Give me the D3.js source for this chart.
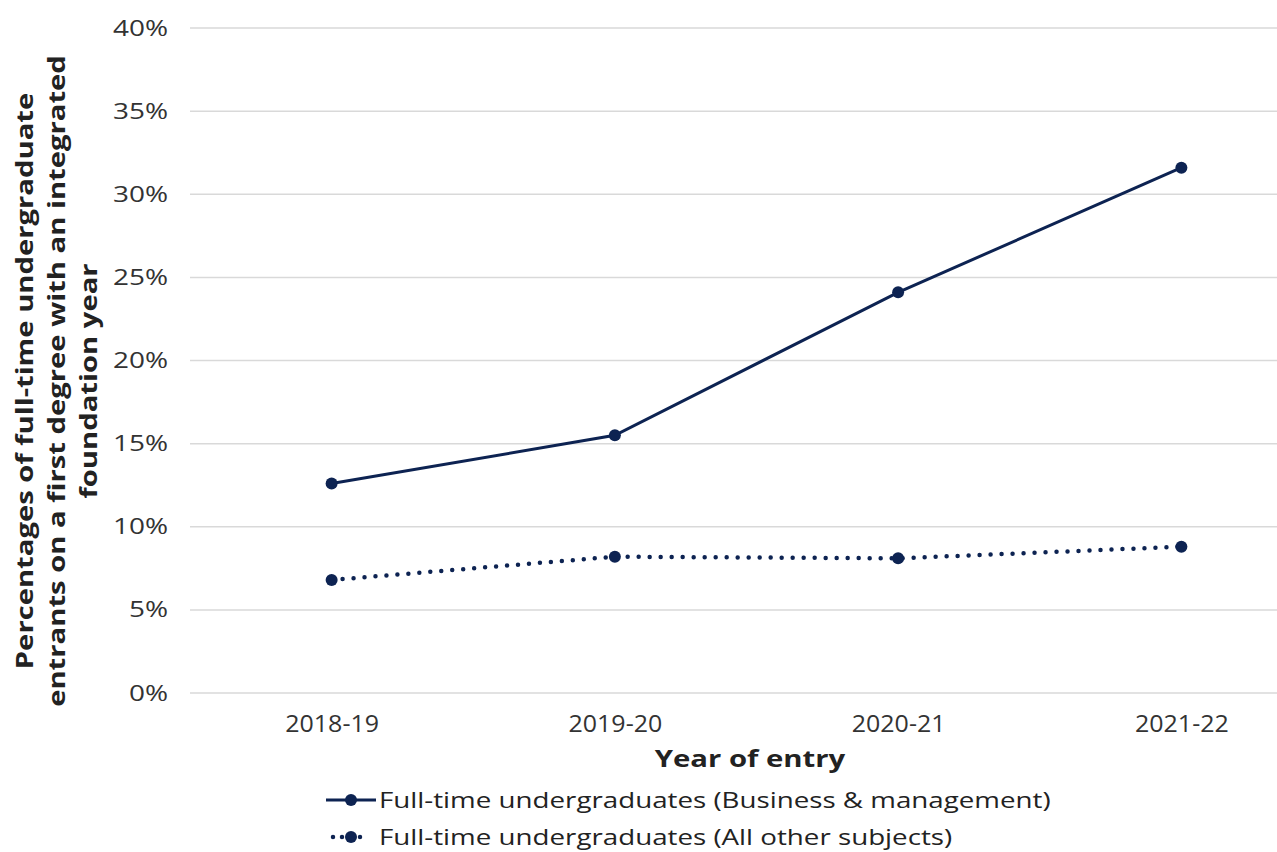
<!DOCTYPE html>
<html><head><meta charset="utf-8">
<script src="https://cdn.jsdelivr.net/npm/d3@7"></script>
<style>body{margin:0;background:#fff}svg{display:block;font-family:"Open Sans",sans-serif}</style>
</head><body><svg id="c" width="1277" height="852"></svg>
<script>
const years = ["2018-19","2019-20","2020-21","2021-22"];
const business = [12.6, 15.5, 24.1, 31.6];
const otherSubjects = [6.8, 8.2, 8.1, 8.8];
const yTicks = [0,5,10,15,20,25,30,35,40];
const seriesNames = ["Full-time undergraduates (Business & management)","Full-time undergraduates (All other subjects)"];
const yTitleLines = ["Percentages of full-time undergraduate","entrants on a first degree with an integrated","foundation year"];
const xTitle = "Year of entry";
const color = "#0d2352";

// widen text to mimic the wide geometric face of the original
function stretch(sel, k){
  sel.each(function(){
    const w = this.getComputedTextLength();
    d3.select(this).attr("textLength", w*k).attr("lengthAdjust","spacingAndGlyphs");
  });
}

const svg = d3.select("#c");
const x = d3.scalePoint().domain(years).range([190, 1323]).padding(0.5);
const y = d3.scaleLinear().domain([0,40]).range([693, 28]);

// gridlines
svg.append("g").selectAll("line").data(yTicks).join("line")
  .attr("x1",190).attr("x2",1277).attr("y1",d=>y(d)).attr("y2",d=>y(d))
  .attr("stroke","#d9d9d9").attr("stroke-width",1.5);

// y axis labels
const yAxis = d3.axisLeft(y).tickValues(yTicks).tickFormat(d=>d+"%").tickSize(0).tickPadding(0);
const yg = svg.append("g").attr("transform","translate(168,0)").call(yAxis);
yg.select(".domain").remove();
yg.selectAll("text").attr("font-size",22).attr("fill","#333").attr("font-family","Open Sans");
stretch(yg.selectAll("text"), 1.27);

// x axis labels
const xAxis = d3.axisBottom(x).tickSize(0).tickPadding(0);
const xg = svg.append("g").call(xAxis);
xg.select(".domain").remove();
xg.selectAll("text").attr("font-size",24).attr("fill","#333").attr("font-family","Open Sans")
  .attr("y",732).attr("dy",null);
stretch(xg.selectAll("text"), 1.04);

// axis titles
const xt = svg.append("text").attr("x",750).attr("y",767).attr("text-anchor","middle")
  .attr("font-size",24).attr("font-weight","bold").attr("fill","#222").text(xTitle);
stretch(xt, 1.22);
const yt = svg.append("text").attr("transform","translate(0,381) rotate(-90)")
  .attr("text-anchor","middle").attr("font-size",23).attr("font-weight","bold").attr("fill","#222");
yTitleLines.forEach((t,i)=>yt.append("tspan").attr("x",0).attr("y",33+i*32).text(t));
stretch(yt.selectAll("tspan"), 1.27);

// lines
const line = d3.line().x((d,i)=>x(years[i])).y(d=>y(d));
svg.append("path").datum(business).attr("d",line).attr("fill","none")
  .attr("stroke",color).attr("stroke-width",3);
svg.append("path").datum(otherSubjects).attr("d",line).attr("fill","none")
  .attr("stroke",color).attr("stroke-width",4.5).attr("stroke-linecap","round").attr("stroke-dasharray","0,11");
[business, otherSubjects].forEach(s=>{
  svg.append("g").selectAll("circle").data(s).join("circle")
    .attr("cx",(d,i)=>x(years[i])).attr("cy",d=>y(d)).attr("r",6).attr("fill",color);
});

// legend
const lg = svg.append("g");
const ly = [800, 837];
lg.append("line").attr("x1",326).attr("x2",376).attr("y1",ly[0]).attr("y2",ly[0]).attr("stroke",color).attr("stroke-width",3);
lg.append("line").attr("x1",333).attr("x2",369).attr("y1",ly[1]).attr("y2",ly[1]).attr("stroke",color).attr("stroke-width",4.5)
  .attr("stroke-linecap","round").attr("stroke-dasharray","0,9");
ly.forEach((yy,i)=>{
  lg.append("circle").attr("cx",351).attr("cy",yy).attr("r",6).attr("fill",color);
  const t = lg.append("text").attr("x",379).attr("y",yy+8).attr("font-size",22).attr("fill","#222").text(seriesNames[i]);
  stretch(t, 1.26);
});
</script></body></html>
